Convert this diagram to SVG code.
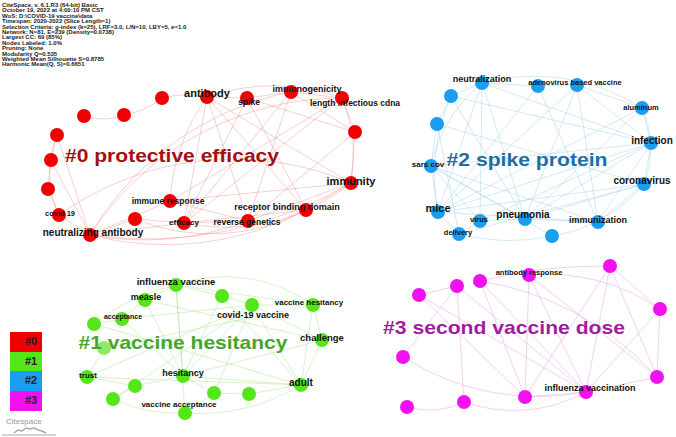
<svg xmlns="http://www.w3.org/2000/svg" width="676" height="437" viewBox="0 0 676 437">
<style>
text{font-family:"Liberation Sans",Arial,sans-serif;font-weight:bold}
.hd{font-size:6px;fill:#222}
.lb{fill:#111;text-anchor:middle}
.cl{text-anchor:middle}
.e0{stroke:#f08080;stroke-opacity:.55;fill:none;stroke-width:.7}
.e1{stroke:#a0e080;stroke-opacity:.6;fill:none;stroke-width:.7}
.e2{stroke:#9fcfe8;stroke-opacity:.65;fill:none;stroke-width:.7}
.e3{stroke:#e8a0e8;stroke-opacity:.7;fill:none;stroke-width:.7}
.n0{fill:#f00000}.n1{fill:#55e61a}.n2{fill:#1a9ff0}.n3{fill:#f010f0}
</style>
<rect width="676" height="437" fill="#fff"/>
<g id="header">
<text class="hd" x="2" y="7">CiteSpace, v. 6.1.R3 (64-bit) Basic</text>
<text class="hd" x="2" y="12.4">October 19, 2022 at 4:00:10 PM CST</text>
<text class="hd" x="2" y="17.8">WoS: D:\COVID-19 vaccine\data</text>
<text class="hd" x="2" y="23.2">Timespan: 2020-2022 (Slice Length=1)</text>
<text class="hd" x="2" y="28.6">Selection Criteria: g-index (k=25), LRF=3.0, L/N=10, LBY=5, e=1.0</text>
<text class="hd" x="2" y="34">Network: N=81, E=239 (Density=0.0738)</text>
<text class="hd" x="2" y="39.4">Largest CC: 69 (85%)</text>
<text class="hd" x="2" y="44.8">Nodes Labeled: 1.0%</text>
<text class="hd" x="2" y="50.2">Pruning: None</text>
<text class="hd" x="2" y="55.6">Modularity Q=0.535</text>
<text class="hd" x="2" y="61">Weighted Mean Silhouette S=0.8785</text>
<text class="hd" x="2" y="66.4">Harmonic Mean(Q, S)=0.6651</text>
</g>
<g id="connectors">
<path class="e0" d="M84 116 A60 60 0 0 0 124 115 M124 115 A80 80 0 0 0 162 98 M162 98 A100 100 0 0 1 207 97 M207 97 L247 98 M207 97 A200 200 0 0 1 342 98 M247 98 L291 92 M291 92 L342 98 M342 98 L355 132 M355 132 L351 183 M342 98 A150 150 0 0 1 351 183 M57 135 L51 160 M51 160 L48 189 M48 189 L59 215 M57 135 A100 100 0 0 0 59 215 M59 215 L90 235 M90 235 L135 219 M90 235 L170 201 M90 235 L184 223 M90 235 A300 300 0 0 0 248 221 M90 235 A300 300 0 0 0 306 210 M90 235 A400 400 0 0 0 351 183 M90 235 A300 300 0 0 1 342 98 M90 235 A300 300 0 0 1 291 92 M59 215 A300 300 0 0 1 351 183 M207 97 L184 223 M207 97 L248 221 M207 97 L306 210 M207 97 A200 200 0 0 0 170 201 M247 98 L184 223 M247 98 L306 210 M291 92 L248 221 M291 92 L184 223 M342 98 L184 223 M342 98 L170 201 M355 132 L248 221 M351 183 L306 210 M351 183 L248 221 M351 183 A200 200 0 0 1 184 223 M306 210 L184 223 M248 221 L184 223 M170 201 L248 221 M135 219 L184 223 M135 219 A200 200 0 0 0 306 210 M207 97 L351 183 M247 98 L355 132 M291 92 L355 132 M170 201 L351 183 M57 135 L90 235 M51 160 L90 235"/>
<path class="e2" d="M482 83 L538 86 M538 86 L577 85 M482 83 A200 200 0 0 1 642 108 M577 85 L642 108 M642 108 L651 143 M651 143 L644 184 M642 108 A100 100 0 0 1 644 184 M451 96 L482 83 M451 96 L437 124 M437 124 L431 166 M431 166 L438 212 M438 212 L459 234 M459 234 L480 221 M480 221 L525 219 M525 219 L598 222 M459 234 A200 200 0 0 0 552 236 M552 236 A150 150 0 0 0 644 184 M598 222 L644 184 M598 222 L651 143 M525 219 L651 143 M525 219 L644 184 M438 212 L651 143 M438 212 L644 184 M438 212 L598 222 M431 166 L651 143 M431 166 L525 219 M431 166 L598 222 M431 166 L480 221 M482 83 L438 212 M482 83 L525 219 M482 83 L480 221 M482 83 L651 143 M538 86 L438 212 M538 86 L598 222 M577 85 L525 219 M577 85 L438 212 M577 85 L598 222 M642 108 L438 212 M642 108 L525 219 M451 96 L651 143 M451 96 L525 219 M437 124 L644 184 M437 124 L459 234 M480 221 L651 143 M459 234 L644 184 M552 236 L431 166 M482 83 A150 150 0 0 0 431 166 M451 96 A200 200 0 0 0 438 212 M577 85 L651 143"/>
<path class="e1" d="M176 285 L145 300 M176 285 L222 296 M222 296 L252 305 M252 305 L313 305 M176 285 A150 150 0 0 1 313 305 M313 305 L322 340 M322 340 L301 385 M313 305 L301 385 M122 319 L94 324 M94 324 L104 348 M104 348 L87 377 M87 377 L135 386 M135 386 L183 376 M183 376 L301 385 M135 386 L113 399 M113 399 A150 150 0 0 0 185 413 M185 413 L214 393 M214 393 L249 394 M249 394 L301 385 M185 413 A200 200 0 0 0 301 385 M145 300 L122 319 M176 285 L183 376 M176 285 L185 413 M222 296 L183 376 M222 296 L301 385 M252 305 L183 376 M252 305 L214 393 M252 305 L301 385 M252 305 L322 340 M145 300 L322 340 M122 319 L252 305 M94 324 L301 385 M87 377 L252 305 M104 348 L313 305 M183 376 L322 340 M183 376 L214 393 M145 300 L183 376 M176 285 L313 305 M113 399 L252 305 M87 377 L301 385 M122 319 L183 376 M94 324 A200 200 0 0 1 176 285"/>
<path class="e3" d="M419 295 L457 286 M457 286 L403 357 M419 295 L586 392 M457 286 L464 402 M480 281 L586 392 M480 281 L525 397 M529 275 L586 392 M529 275 L657 377 M529 275 A200 200 0 0 1 660 309 M610 266 L586 392 M610 266 L657 377 M610 266 L660 309 M610 266 L525 397 M480 281 A300 300 0 0 1 657 377 M660 309 L586 392 M660 309 L657 377 M657 377 L586 392 M403 357 A250 250 0 0 0 586 392 M407 407 A80 80 0 0 0 464 402 M464 402 A150 150 0 0 0 586 392 M525 397 L586 392 M457 286 L586 392 M529 275 L525 397 M480 281 A500 500 0 0 1 610 266 M419 295 L525 397"/>
</g>
<g id="cluster0">
<circle class="n0" cx="84" cy="116" r="7"/><circle class="n0" cx="124" cy="115" r="7"/><circle class="n0" cx="162" cy="98" r="7"/>
<circle class="n0" cx="207" cy="97" r="7"/><circle class="n0" cx="247" cy="98" r="7"/><circle class="n0" cx="291" cy="92" r="7"/>
<circle class="n0" cx="342" cy="98" r="7"/><circle class="n0" cx="355" cy="132" r="7"/><circle class="n0" cx="351" cy="183" r="7"/>
<circle class="n0" cx="57" cy="135" r="7"/><circle class="n0" cx="51" cy="160" r="7"/><circle class="n0" cx="48" cy="189" r="7"/>
<circle class="n0" cx="59" cy="215" r="7"/><circle class="n0" cx="135" cy="219" r="7"/><circle class="n0" cx="90" cy="235" r="7"/>
<circle class="n0" cx="170" cy="201" r="7"/><circle class="n0" cx="184" cy="223" r="7"/><circle class="n0" cx="248" cy="221" r="7"/>
<circle class="n0" cx="306" cy="210" r="7"/>
<text class="lb" x="207" y="97" font-size="11">antibody</text>
<text class="lb" x="249" y="105" font-size="8.5">spike</text>
<text class="lb" x="307" y="92" font-size="9">immunogenicity</text>
<text class="lb" x="355" y="106" font-size="8.5">length infectious cdna</text>
<text class="lb" x="351" y="185" font-size="11">immunity</text>
<text class="lb" x="168" y="204" font-size="8.5">immune response</text>
<text class="lb" x="60" y="216" font-size="7.5">covid 19</text>
<text class="lb" x="287" y="210" font-size="9">receptor binding domain</text>
<text class="lb" x="184" y="225" font-size="8">efficacy</text>
<text class="lb" x="247" y="225" font-size="8.5">reverse genetics</text>
<text class="lb" x="93" y="236" font-size="10">neutralizing antibody</text>
<text class="cl" x="172" y="162" font-size="19" fill="#a41010" textLength="214" lengthAdjust="spacingAndGlyphs">#0 protective efficacy</text>
</g>
<g id="cluster2">
<circle class="n2" cx="482" cy="83" r="7"/><circle class="n2" cx="451" cy="96" r="7"/><circle class="n2" cx="437" cy="124" r="7"/>
<circle class="n2" cx="538" cy="86" r="7"/><circle class="n2" cx="577" cy="85" r="7"/><circle class="n2" cx="642" cy="108" r="7"/>
<circle class="n2" cx="651" cy="143" r="7"/><circle class="n2" cx="644" cy="184" r="7"/><circle class="n2" cx="431" cy="166" r="7"/>
<circle class="n2" cx="438" cy="212" r="7"/><circle class="n2" cx="480" cy="221" r="7"/><circle class="n2" cx="459" cy="234" r="7"/>
<circle class="n2" cx="525" cy="219" r="7"/><circle class="n2" cx="552" cy="236" r="7"/><circle class="n2" cx="598" cy="222" r="7"/>
<text class="lb" x="482" y="82" font-size="9">neutralization</text>
<text class="lb" x="575" y="85" font-size="7.5">adenovirus based vaccine</text>
<text class="lb" x="641" y="110" font-size="7.5">aluminum</text>
<text class="lb" x="652" y="144" font-size="10">infection</text>
<text class="lb" x="642" y="184" font-size="10">coronavirus</text>
<text class="lb" x="428" y="167" font-size="8">sars cov</text>
<text class="lb" x="438" y="212" font-size="11">mice</text>
<text class="lb" x="479" y="222" font-size="7.5">virus</text>
<text class="lb" x="458" y="235" font-size="7.5">delivery</text>
<text class="lb" x="523" y="218" font-size="10">pneumonia</text>
<text class="lb" x="598" y="223" font-size="9">immunization</text>
<text class="cl" x="527" y="166" font-size="19" fill="#1c6ea4" textLength="161" lengthAdjust="spacingAndGlyphs">#2 spike protein</text>
</g>
<g id="cluster1">
<circle class="n1" cx="176" cy="285" r="7"/><circle class="n1" cx="145" cy="300" r="7"/><circle class="n1" cx="222" cy="296" r="7"/>
<circle class="n1" cx="252" cy="305" r="7"/><circle class="n1" cx="313" cy="305" r="7"/><circle class="n1" cx="122" cy="319" r="7"/>
<circle class="n1" cx="94" cy="324" r="7"/><circle cx="104" cy="348" r="7" fill="#8ee86a"/><circle class="n1" cx="322" cy="340" r="7"/>
<circle class="n1" cx="87" cy="377" r="7"/><circle class="n1" cx="183" cy="376" r="7"/><circle class="n1" cx="135" cy="386" r="7"/>
<circle class="n1" cx="113" cy="399" r="7"/><circle class="n1" cx="214" cy="393" r="7"/><circle class="n1" cx="249" cy="394" r="7"/>
<circle class="n1" cx="301" cy="385" r="7"/><circle class="n1" cx="185" cy="413" r="7"/>
<text class="lb" x="176" y="285" font-size="9.5">influenza vaccine</text>
<text class="lb" x="146" y="300" font-size="9">measle</text>
<text class="lb" x="123" y="319" font-size="7">acceptance</text>
<text class="lb" x="253" y="318" font-size="9">covid-19 vaccine</text>
<text class="lb" x="309" y="305" font-size="8">vaccine hesitancy</text>
<text class="lb" x="322" y="341" font-size="9.5">challenge</text>
<text class="lb" x="88" y="378" font-size="8">trust</text>
<text class="lb" x="183" y="376" font-size="9">hesitancy</text>
<text class="lb" x="301" y="386" font-size="10">adult</text>
<text class="lb" x="179" y="407" font-size="8">vaccine acceptance</text>
<text class="cl" x="183" y="349" font-size="19" fill="#46a62c" textLength="209" lengthAdjust="spacingAndGlyphs">#1 vaccine hesitancy</text>
</g>
<g id="cluster3">
<circle class="n3" cx="419" cy="295" r="7"/><circle class="n3" cx="457" cy="286" r="7"/><circle class="n3" cx="480" cy="281" r="7"/>
<circle class="n3" cx="529" cy="275" r="7"/><circle class="n3" cx="610" cy="266" r="7"/><circle class="n3" cx="660" cy="309" r="7"/>
<circle class="n3" cx="403" cy="357" r="7"/><circle class="n3" cx="657" cy="377" r="7"/><circle class="n3" cx="586" cy="392" r="7"/>
<circle class="n3" cx="525" cy="397" r="7"/><circle class="n3" cx="464" cy="402" r="7"/><circle class="n3" cx="407" cy="407" r="7"/>
<text class="lb" x="529" y="275" font-size="7.5">antibody response</text>
<text class="lb" x="590" y="391" font-size="9">influenza vaccination</text>
<text class="cl" x="504" y="334" font-size="19" fill="#a01ca0" textLength="242" lengthAdjust="spacingAndGlyphs">#3 second vaccine dose</text>
</g>
<g id="legend">
<rect x="10" y="332" width="32" height="20" fill="#f00000"/>
<rect x="10" y="352" width="32" height="19" fill="#55e61a"/>
<rect x="10" y="371" width="32" height="20" fill="#1a9ff0"/>
<rect x="10" y="391" width="32" height="20" fill="#f010f0"/>
<text x="31" y="345" font-size="11" text-anchor="middle" fill="#222">#0</text>
<text x="31" y="365" font-size="11" text-anchor="middle" fill="#222">#1</text>
<text x="31" y="384" font-size="11" text-anchor="middle" fill="#222">#2</text>
<text x="31" y="404" font-size="11" text-anchor="middle" fill="#222">#3</text>
<text x="6" y="424" font-size="8" font-weight="normal" fill="#999" style="font-weight:normal">Citespace</text>
<path d="M14 433 L18 430 L22 431 L26 428 L30 429 L34 428 L38 430 L42 431 L46 433" stroke="#aaa" fill="none" stroke-width="1.5"/>
<line x1="2" y1="435" x2="56" y2="435" stroke="#aaa" stroke-width="1"/>
</g>
</svg>
